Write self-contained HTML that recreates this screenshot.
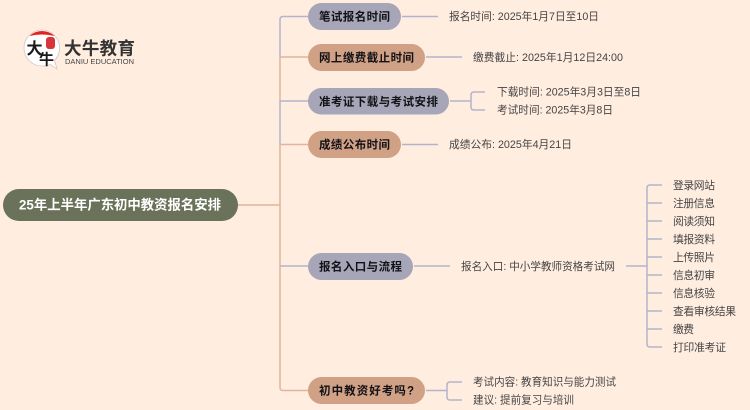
<!DOCTYPE html>
<html><head><meta charset="utf-8"><style>
html,body{margin:0;padding:0;background:#FFEDE0;width:750px;height:410px;overflow:hidden}
svg{display:block;font-family:"Liberation Sans","Noto Sans CJK SC",sans-serif;filter:blur(.3px)}
.n{font-size:11.500px;font-weight:700;fill:#111116}
.t{font-size:10.800px;fill:#444}
.p{stroke:#b3b3ca;stroke-width:1.500;fill:none}
.o{stroke:#e0b59b;stroke-width:1.500;fill:none}
</style></head><body>
<svg width="750" height="410" viewBox="0 0 750 410" xmlns="http://www.w3.org/2000/svg">
<rect width="750" height="410" fill="#FFEDE0"/>
<path class="o" d="M238 205H280"/>
<path class="p" d="M308 16.500H283Q280 16.500 280 19.500V57"/>
<path class="o" d="M280 57V101M280 57H308"/>
<path class="p" d="M280 101V144.500M280 101H308"/>
<path class="o" d="M280 144.500V387.500Q280 390.500 283 390.500H308M280 144.500H308"/>
<path class="p" d="M280 266H308"/>
<path class="p" d="M402 16.500H438M426 57H462M450 101H471M402 144.500H438M414 266H450M426 390.500H447"/>
<path class="p" d="M471 101V95Q471 92 474 92H485M471 101V107Q471 110 474 110H485"/>
<path class="p" d="M447 390.500V385Q447 382 450 382H462M447 390.500V397Q447 400 450 400H462"/>
<path class="p" d="M626 266H647M662 185H650Q647 185 647 188V344Q647 347 650 347H662M647 203H662M647 221H662M647 239H662M647 257H662M647 275H662M647 293H662M647 311H662M647 329H662"/>
<rect x="3" y="189" width="235" height="32" rx="16" fill="#6B725A"/>
<text x="19" y="209.500" font-size="13.500" font-weight="700" fill="#fff" textLength="202" lengthAdjust="spacingAndGlyphs">25年上半年广东初中教资报名安排</text>
<rect x="308" y="3" width="93" height="27" rx="13.500" fill="#A6A6B8"/>
<text class="n" x="319" y="20.500" textLength="71">笔试报名时间</text>
<rect x="308" y="44" width="117" height="27" rx="13.500" fill="#D1A186"/>
<text class="n" x="319" y="61.500" textLength="95">网上缴费截止时间</text>
<rect x="308" y="88" width="141" height="26.500" rx="13.250" fill="#A6A6B8"/>
<text class="n" x="319" y="105.500" textLength="119">准考证下载与考试安排</text>
<rect x="308" y="131" width="93" height="27" rx="13.500" fill="#D1A186"/>
<text class="n" x="319" y="148.500" textLength="71">成绩公布时间</text>
<rect x="308" y="253" width="105" height="27" rx="13.500" fill="#A6A6B8"/>
<text class="n" x="319" y="270.500" textLength="83">报名入口与流程</text>
<rect x="308" y="377" width="117" height="27" rx="13.500" fill="#D1A186"/>
<text class="n" x="319" y="394.500" textLength="95">初中教资好考吗?</text>
<text class="t" x="449" y="20" textLength="150" lengthAdjust="spacingAndGlyphs">报名时间: 2025年1月7日至10日</text>
<text class="t" x="473" y="61" textLength="150" lengthAdjust="spacingAndGlyphs">缴费截止: 2025年1月12日24:00</text>
<text class="t" x="497" y="95.500" textLength="144" lengthAdjust="spacingAndGlyphs">下载时间: 2025年3月3日至8日</text>
<text class="t" x="497" y="113.500" textLength="116" lengthAdjust="spacingAndGlyphs">考试时间: 2025年3月8日</text>
<text class="t" x="449" y="148" textLength="123" lengthAdjust="spacingAndGlyphs">成绩公布: 2025年4月21日</text>
<text class="t" x="461" y="270" textLength="154" lengthAdjust="spacingAndGlyphs">报名入口: 中小学教师资格考试网</text>
<text class="t" x="473" y="385.500" textLength="143" lengthAdjust="spacingAndGlyphs">考试内容: 教育知识与能力测试</text>
<text class="t" x="473" y="403.500" textLength="101" lengthAdjust="spacingAndGlyphs">建议: 提前复习与培训</text>
<text class="t" x="673" y="189" textLength="42">登录网站</text>
<text class="t" x="673" y="207" textLength="42">注册信息</text>
<text class="t" x="673" y="225" textLength="42">阅读须知</text>
<text class="t" x="673" y="243" textLength="42">填报资料</text>
<text class="t" x="673" y="261" textLength="42">上传照片</text>
<text class="t" x="673" y="279" textLength="42">信息初审</text>
<text class="t" x="673" y="297" textLength="42">信息核验</text>
<text class="t" x="673" y="315" textLength="63">查看审核结果</text>
<text class="t" x="673" y="333" textLength="21">缴费</text>
<text class="t" x="673" y="351" textLength="53">打印准考证</text>
<path d="M42 30A18 18 0 0 0 42 66Q47 66 50 64.500L57 69L54.500 60.500A18 18 0 0 0 42 30Z" fill="#fff" stroke="#cfc8c4" stroke-width=".8"/>
<path d="M29.500 36A18 18 0 0 1 54.500 36Q42 33 29.500 36Z" fill="#E3241E"/>
<rect x="46" y="37" width="9" height="12" rx="3" fill="#D8353A"/>
<text x="26.500" y="54" font-size="16" font-weight="700" fill="#1a1a1a">大</text>
<text x="39" y="64.500" font-size="15" font-weight="700" fill="#1a1a1a">牛</text>
<text x="64" y="54.500" font-size="17.500" font-weight="700" fill="#333" textLength="71">大牛教育</text>
<text x="65" y="64" font-size="7" fill="#444" textLength="69" lengthAdjust="spacingAndGlyphs">DANIU EDUCATION</text>
</svg>
</body></html>
